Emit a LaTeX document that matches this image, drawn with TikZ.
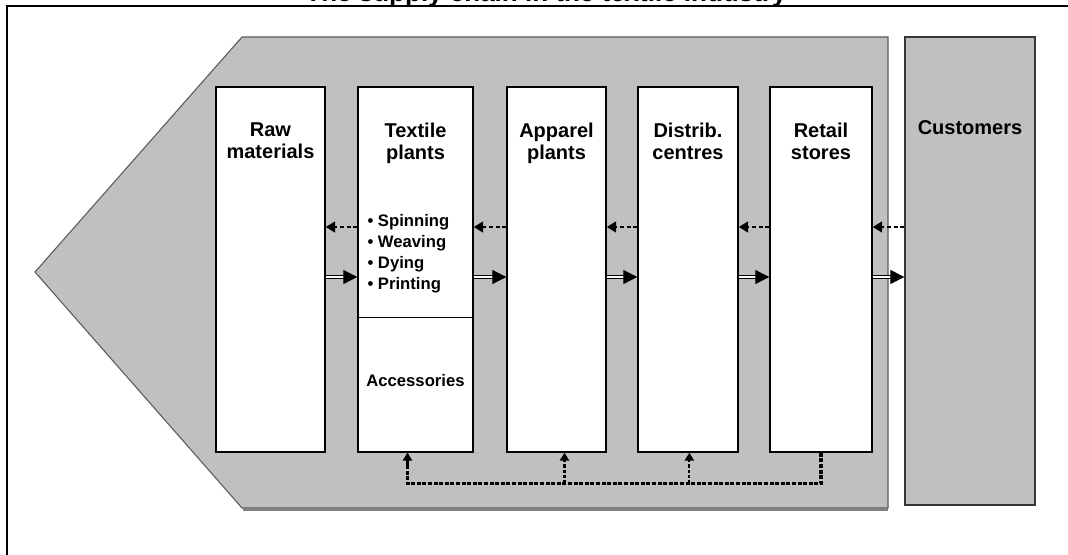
\documentclass[tikz,border=0pt]{standalone}
\usepackage{fontspec}
\setmainfont{Liberation Sans}
\usetikzlibrary{positioning,arrows.meta}
\definecolor{panelgray}{HTML}{C0C0C0}
\definecolor{edgegray}{HTML}{5A5A5A}
\tikzset{
  stage/.style={draw, fill=white, line width=1.1pt, minimum height=273.75pt, inner sep=0pt},
  stagelabel/.style={font=\fontsize{15}{16.5}\selectfont\bfseries, align=center, inner sep=0pt},
  smalltext/.style={font=\fontsize{12.5}{15.75}\selectfont\bfseries, inner sep=0pt},
  infoback/.style={line width=2.2pt, dash pattern=on 3pt off 2pt, -{Triangle[length=7pt,width=8pt]}},
  goodsflow/.style={double, double distance=1.6pt, line width=0.9pt, -{Triangle[length=10.5pt,width=10.5pt]}},
  bus/.style={line width=2.3pt, dash pattern=on 3pt off 1.2pt},
  busup/.style={line width=1.6pt, dash pattern=on 2.5pt off 1.5pt, -{Triangle[length=6pt,width=7pt]}}
}
\begin{document}
\begin{tikzpicture}[x=0.75pt,y=-0.75pt]
\useasboundingbox (0,0) rectangle (1068,554);
\node[font=\fontsize{19.5}{22}\selectfont\bfseries, anchor=base, inner sep=0pt] (title) at (546,1) {The supply chain in the textile industry};
\draw[line width=2.2pt] (7,570) -- (7,6) -- (1080,6);
\draw[fill=panelgray, draw=edgegray, line width=0.8pt] (35,272) -- (242,37) -- (888,37) -- (888,508) -- (242,508) -- cycle;
\draw[gray, line width=1.6pt] (243,509.5) -- (888,509.5);
\node[draw=edgegray!60!black, fill=panelgray, line width=1pt, minimum width=97.5pt, minimum height=351pt, inner sep=0pt] (cust) at (970,271) {};
\node[stage, minimum width=81.75pt] (raw) at (270.5,269.5) {};
\node[stage, minimum width=86.25pt] (textile) at (415.5,269.5) {};
\node[stage, minimum width=74.25pt] (apparel) at (556.5,269.5) {};
\node[stage, minimum width=75pt] (distrib) at (688,269.5) {};
\node[stage, minimum width=76.5pt] (retail) at (821,269.5) {};
\node[stagelabel, below=27pt of raw.north] (rawlbl) {Raw\\materials};
\node[stagelabel, below=27pt of textile.north] (textilelbl) {Textile\\plants};
\node[stagelabel, below=27pt of apparel.north] (apparellbl) {Apparel\\plants};
\node[stagelabel, below=27pt of distrib.north] (distriblbl) {Distrib.\\centres};
\node[stagelabel, below=27pt of retail.north] (retaillbl) {Retail\\stores};
\node[stagelabel, below=63pt of cust.north] (custlbl) {Customers};
\node[smalltext, align=left, anchor=north west] (steps) at ([xshift=7.5pt,yshift=-96pt]textile.north west) {\textbullet\ Spinning\\\textbullet\ Weaving\\\textbullet\ Dying\\\textbullet\ Printing};
\draw[line width=1.1pt] ([yshift=101.25pt]textile.south west) -- ([yshift=101.25pt]textile.south east);
\node[smalltext] (acc) at ([yshift=54pt]textile.south) {Accessories};
\coordinate (infoy) at (0,227);
\coordinate (goodsy) at (0,277);
\foreach \a/\b in {raw/textile,textile/apparel,apparel/distrib,distrib/retail,retail/cust} {
  \draw[infoback] (\b.west |- infoy) -- (\a.east |- infoy);
  \draw[goodsflow] (\a.east |- goodsy) -- (\b.west |- goodsy);
}
\coordinate (busend) at ([yshift=-23.25pt]retail.south);
\draw[bus] (retail.south) -- (busend) -| ([xshift=-6pt]textile.south);
\draw[bus, -{Triangle[length=6pt,width=7pt]}] ([xshift=-6pt,yshift=-10pt]textile.south) -- ([xshift=-6pt]textile.south);
\draw[busup] ([xshift=6pt]apparel.south |- busend) -- ([xshift=6pt]apparel.south);
\draw[busup] ([xshift=1pt]distrib.south |- busend) -- ([xshift=1pt]distrib.south);
\end{tikzpicture}
\end{document}
